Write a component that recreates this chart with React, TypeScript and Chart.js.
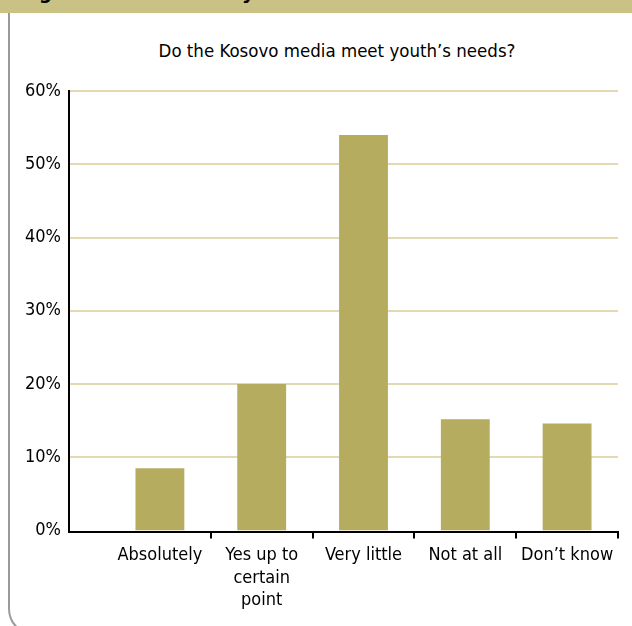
import React, { useEffect, useRef } from "react";
import { Chart, registerables } from "chart.js";

Chart.register(...registerables);

const categories: (string | string[])[] = [
  "Absolutely",
  ["Yes up to", "certain", "point"],
  "Very little",
  "Not at all",
  "Don’t know",
];
const values = [8.5, 20, 54, 15.2, 14.6];
const yTicks = [0, 10, 20, 30, 40, 50, 60];
const chartTitle = "Do the Kosovo media meet youth’s needs?";
const bannerText = "Figure 10: Media and youth needs";

const FONT = "'Liberation Sans Narrow', 'DejaVu Sans Condensed', 'Roboto', sans-serif";
const GRID = "#e1dab2";
const BAR = "#b6ac5f";

export default function App() {
  const ref = useRef<HTMLCanvasElement | null>(null);

  useEffect(() => {
    document.body.style.margin = "0";
    const canvas = ref.current;
    if (!canvas) return;

    const axisExt = {
      id: "axisExt",
      beforeDatasetsDraw(chart: any) {
        const { ctx, chartArea } = chart;
        const y = chart.scales.y;
        const x0 = 69;
        ctx.save();
        ctx.strokeStyle = GRID;
        ctx.lineWidth = 2;
        yTicks.forEach((t) => {
          if (t === 0) return;
          const py = Math.round(y.getPixelForValue(t));
          ctx.beginPath();
          ctx.moveTo(x0, py);
          ctx.lineTo(chartArea.right, py);
          ctx.stroke();
        });
        ctx.restore();
      },
      afterDraw(chart: any) {
        const { ctx, chartArea } = chart;
        const y = chart.scales.y;
        const x0 = 69;
        const top = Math.round(y.getPixelForValue(yTicks[yTicks.length - 1]));
        const bottom = Math.round(y.getPixelForValue(0));
        ctx.save();
        ctx.strokeStyle = "#000";
        ctx.lineWidth = 2;
        ctx.beginPath();
        ctx.moveTo(x0, top - 1);
        ctx.lineTo(x0, bottom + 2);
        ctx.moveTo(x0 - 1, bottom + 1);
        ctx.lineTo(chartArea.right + 1, bottom + 1);
        ctx.stroke();
        ctx.restore();
      },
    };

    const chart = new Chart(canvas, {
      type: "bar",
      data: {
        labels: categories,
        datasets: [
          {
            data: values,
            backgroundColor: BAR,
            borderWidth: 0,
            barPercentage: 0.48,
            categoryPercentage: 1,
          },
        ],
      },
      options: {
        animation: false,
        responsive: false,
        layout: { padding: { left: 0, right: 14, top: 91, bottom: 8 } },
        plugins: {
          legend: { display: false },
          tooltip: { enabled: false },
          title: { display: false },
        },
        scales: {
          x: {
            grid: {
              display: true,
              drawOnChartArea: false,
              drawTicks: true,
              tickLength: 8,
              lineWidth: 2,
              color: (c: any) => (c.index === 0 ? "rgba(0,0,0,0)" : "#000"),
            },
            border: { display: false },
            ticks: {
              color: "#000",
              font: { family: FONT, size: 18, lineHeight: 1.25 },
              padding: 6,
              maxRotation: 0,
              autoSkip: false,
            },
          },
          y: {
            min: 0,
            max: 60,
            afterFit: (s: any) => {
              s.width = 109;
            },
            grid: { display: false },
            border: { display: false },
            ticks: {
              stepSize: 10,
              padding: 40,
              color: "#000",
              font: { family: FONT, size: 18 },
              callback: (v: any) => v + "%",
            },
          },
        },
      },
      plugins: [axisExt],
    });
    return () => chart.destroy();
  }, []);

  return (
    <div style={{ position: "relative", width: 632, height: 626, overflow: "hidden", background: "#fff" }}>
      <div
        style={{
          position: "absolute",
          left: 0,
          top: 0,
          width: 632,
          height: 13,
          background: "#cac285",
          overflow: "hidden",
        }}
      >
        <div
          style={{
            position: "absolute",
            left: 22,
            top: -20,
            fontFamily: FONT,
            fontWeight: "bold",
            fontStyle: "italic",
            fontSize: 20,
            color: "#000",
            whiteSpace: "nowrap",
          }}
        >
          {bannerText}
        </div>
      </div>
      <div
        style={{
          position: "absolute",
          left: 8,
          top: 13,
          width: 700,
          height: 620,
          borderLeft: "2px solid #9a9a9a",
          borderBottom: "2px solid #9a9a9a",
          borderBottomLeftRadius: 26,
        }}
      />
      <div
        style={{
          position: "absolute",
          left: 137,
          top: 39,
          width: 400,
          textAlign: "center",
          fontFamily: FONT,
          fontSize: 18.5,
          lineHeight: "24px",
          color: "#000",
          whiteSpace: "nowrap",
        }}
      >
        {chartTitle}
      </div>
      <canvas
        ref={ref}
        width={632}
        height={626}
        style={{ position: "absolute", left: 0, top: 0, width: 632, height: 626 }}
      />
    </div>
  );
}
